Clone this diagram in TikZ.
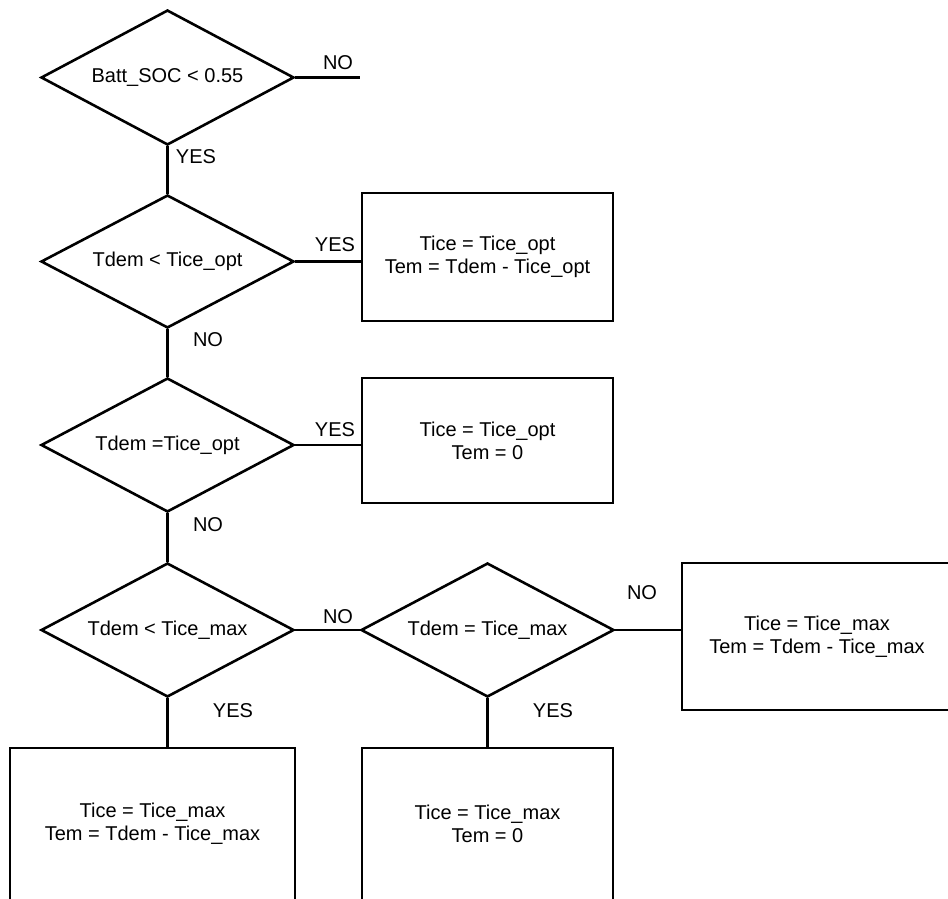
\documentclass[tikz,border=0pt]{standalone}
\usepackage{fontspec}
\setmainfont{Liberation Sans}
\usetikzlibrary{shapes.geometric}
\begin{document}
\begin{tikzpicture}[x=1pt,y=-1pt,
  every node/.style={font=\fontsize{20pt}{23pt}\selectfont},
  dec/.style={diamond, draw, line width=2.6pt, minimum width=253pt, minimum height=135pt, inner sep=0pt, shape aspect=1.87},
  res/.style={rectangle, draw, line width=2.6pt, inner sep=0pt, align=center},
  lab/.style={inner sep=0pt},
  conn/.style={line width=2.6pt}]
\clip (0,0) rectangle (948,898);
\fill[white] (0,0) rectangle (948,898);
% decisions
\node[dec] (d1) at (167.5,77.5) {Batt\_SOC < 0.55};
\node[dec, minimum height=133pt] (d2) at (167.5,261.5) {Tdem < Tice\_opt};
\node[dec, minimum height=134pt] (d3) at (167.5,445) {Tdem =Tice\_opt};
\node[dec, minimum height=134pt] (d4) at (167.5,630) {Tdem < Tice\_max};
\node[dec, minimum height=134pt] (d5) at (487.5,630) {Tdem = Tice\_max};
% results
\node[res, minimum width=251pt, minimum height=128pt] (b1) at (487.5,257) {Tice = Tice\_opt\\Tem = Tdem - Tice\_opt};
\node[res, minimum width=251pt, minimum height=125pt] (b2) at (487.5,440.5) {Tice = Tice\_opt\\Tem = 0};
\node[res, minimum width=270pt, minimum height=147pt] (b3) at (817,636.5) {Tice = Tice\_max\\Tem = Tdem - Tice\_max};
\node[res, minimum width=285pt, minimum height=152pt] (b4) at (152.5,824) {Tice = Tice\_max\\Tem = Tdem - Tice\_max};
\node[res, minimum width=251pt, minimum height=152pt] (b5) at (487.5,824) {Tice = Tice\_max\\Tem = 0};
% connectors
\coordinate (noend) at (360,77.5);
\draw[conn] (d1.east) -- (noend);
\draw[conn] (d1.south) -- (d2.north);
\draw[conn] (d2.east) -- (d2.east -| b1.west);
\draw[conn] (d2.south) -- (d3.north);
\draw[conn] (d3.east) -- (d3.east -| b2.west);
\draw[conn] (d3.south) -- (d4.north);
\draw[conn] (d4.east) -- (d5.west);
\draw[conn] (d5.east) -- (d5.east -| b3.west);
\draw[conn] (d4.south) -- (d4.south |- b4.north);
\draw[conn] (d5.south) -- (b5.north);
% labels
\node[lab] (l1) at (338,63) {NO};
\node[lab] (l2) at (196,157) {YES};
\node[lab] (l3) at (335,245) {YES};
\node[lab] (l4) at (208,340) {NO};
\node[lab] (l5) at (335,430) {YES};
\node[lab] (l6) at (208,525) {NO};
\node[lab] (l7) at (338,617) {NO};
\node[lab] (l8) at (642,593) {NO};
\node[lab] (l9) at (233,711) {YES};
\node[lab] (l10) at (553,711) {YES};
\end{tikzpicture}
\end{document}
